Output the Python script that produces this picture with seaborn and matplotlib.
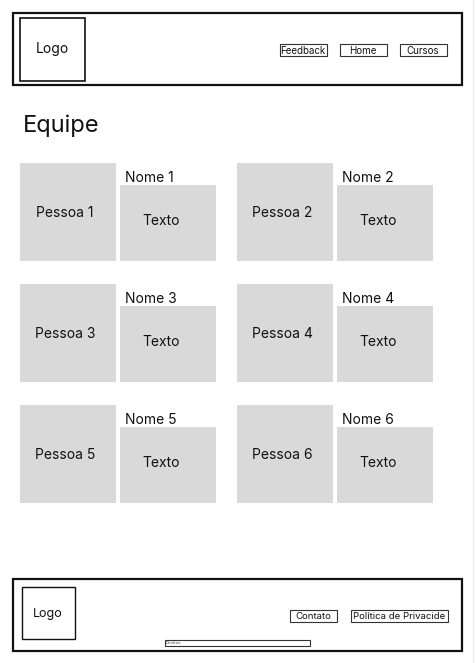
import matplotlib
matplotlib.use("Agg")
import matplotlib.pyplot as plt
import matplotlib.patches as mpatches
import seaborn as sns

# ── Content ───────────────────────────────────────────────────────────────────
NAV_LABELS    = ["Feedback", "Home", "Cursos"]
FOOTER_LINKS  = ["Contato", "Política de Privacide"]
PEOPLE        = ["Pessoa 1", "Pessoa 2", "Pessoa 3", "Pessoa 4", "Pessoa 5", "Pessoa 6"]
NAMES         = ["Nome 1", "Nome 2", "Nome 3", "Nome 4", "Nome 5", "Nome 6"]
CARD_TEXT     = ["Texto"] * 6
TITLE         = "Equipe"
COPYRIGHT     = "Direitos"

GRAY = "#d9d9d9"
W, H = 476, 663

sns.set_theme(style="white")
plt.rcParams["font.family"] = ["Inter", "DejaVu Sans"]
plt.rcParams["text.color"] = "#111111"


def box(ax, x, y, w, h, fc="none", ec="#111", lw=1.0):
    ax.add_patch(mpatches.Rectangle((x, y), w, h, facecolor=fc,
                                    edgecolor=ec, linewidth=lw))


fig = plt.figure(figsize=(W / 100, H / 100), dpi=100)
ax = fig.add_axes([0, 0, 1, 1])
ax.set_xlim(0, W)
ax.set_ylim(H, 0)
ax.axis("off")

# header
box(ax, 12.5, 12.5, 449, 72, lw=1.6)
box(ax, 19.5, 17.5, 65, 63, lw=1.2)
ax.text(52, 49.5, "Logo", ha="center", va="center", fontsize=10)
nav_x = [279, 339, 399]
for x, lab in zip(nav_x, NAV_LABELS):
    box(ax, x + 0.5, 43.5, 47, 12, lw=0.8, ec="#333")
    ax.text(x + 24, 50.5, lab, ha="center", va="center", fontsize=7)

# title
ax.text(23, 126, TITLE, ha="left", va="center", fontsize=17)

# team cards
for i, (p, n, t) in enumerate(zip(PEOPLE, NAMES, CARD_TEXT)):
    col, row = i % 2, i // 2
    x0 = 20 + col * 217
    y0 = 163 + row * 121
    box(ax, x0, y0, 96, 98, fc=GRAY, ec="none")
    box(ax, x0 + 100, y0 + 22, 96, 76, fc=GRAY, ec="none")
    ax.text(x0 + 45, y0 + 50, p, ha="center", va="center", fontsize=10)
    ax.text(x0 + 141, y0 + 58, t, ha="center", va="center", fontsize=10)
    ax.text(x0 + 105, y0 + 15, n, ha="left", va="center", fontsize=10)

# footer
box(ax, 12.5, 578.5, 449, 72, lw=1.6)
box(ax, 21.5, 586.5, 53, 52, lw=1.0)
ax.text(48, 613.5, "Logo", ha="center", va="center", fontsize=9)
foot_x = [289.5, 350.5]
foot_w = [47, 97]
for x, w, lab in zip(foot_x, foot_w, FOOTER_LINKS):
    box(ax, x, 609.5, w, 12, lw=0.8, ec="#333")
    ax.text(x + w / 2, 616.5, lab, ha="center", va="center", fontsize=6.9)
box(ax, 164.5, 639.5, 145, 6, lw=0.8, ec="#333")
ax.text(166, 643, COPYRIGHT, ha="left", va="center", fontsize=3, color="#444")

# faint scrollbar edge
ax.plot([473, 473], [0, H], color="#f0f0f0", linewidth=1)

fig.savefig("out.png", dpi=100)
plt.close(fig)
